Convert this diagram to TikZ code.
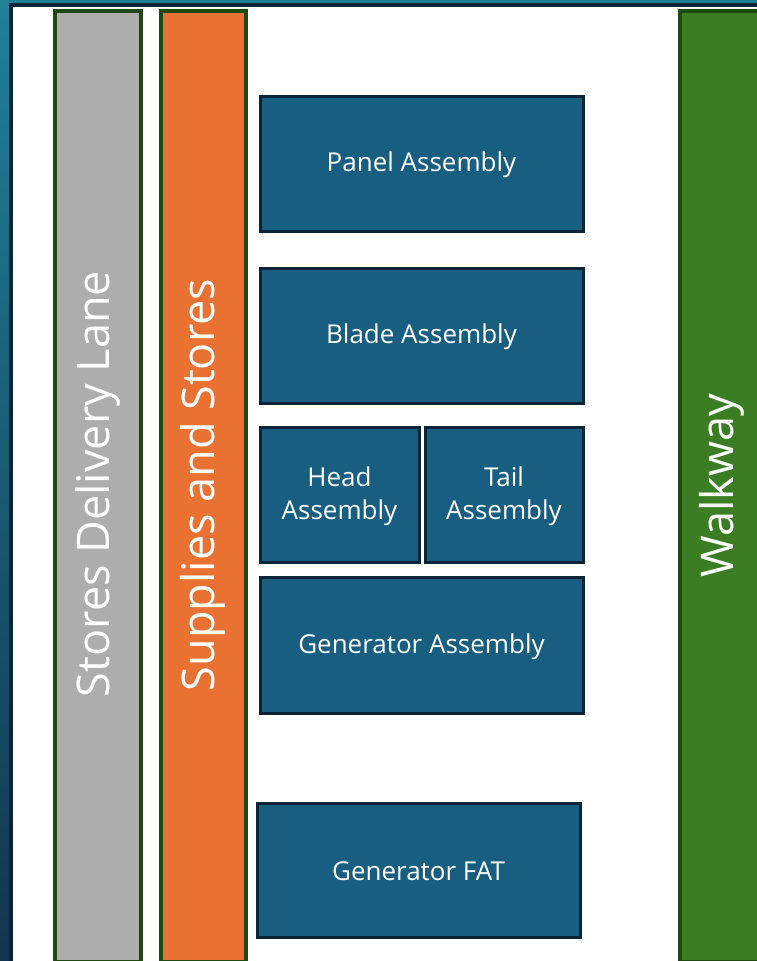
\documentclass[tikz,border=0pt]{standalone}
\usepackage{fontspec}
\setmainfont{Open Sans}
\begin{document}
\begin{tikzpicture}[x=1pt,y=-1pt,
  bar/.style={draw=greenedge,line width=3.5pt},
  box/.style={draw=navyedge,fill=boxblue,line width=3pt},
  boxtxt/.style={text=white,font=\fontsize{26}{33}\selectfont,align=center},
  bigtxt/.style={text=white,font=\fontsize{45}{54}\selectfont,rotate=90}]
\definecolor{greenedge}{HTML}{1E4A12}
\definecolor{navyedge}{HTML}{0B2437}
\definecolor{boxblue}{HTML}{175E80}
\definecolor{grayfill}{HTML}{ADADAD}
\definecolor{orangefill}{HTML}{E97132}
\definecolor{walkgreen}{HTML}{3B7D23}
\definecolor{frametop}{HTML}{1F8098}
\definecolor{framebot}{HTML}{123550}
\useasboundingbox (0,0) rectangle (757,961);
% frame
\shade[top color=frametop,bottom color=framebot] (0,0) rectangle (757,961);
\fill[navyedge] (9,3) rectangle (757,961);
\fill[white] (13,7) rectangle (757,961);
% bars
\draw[bar,fill=grayfill] (55,11) rectangle (141,962);
\draw[bar,fill=orangefill] (161,11) rectangle (246,962);
\draw[bar,fill=walkgreen] (680,11) rectangle (770,962);
\node[bigtxt] (sdl) at (98,484) {Stores Delivery Lane};
\node[bigtxt] (sas) at (203,485) {Supplies and Stores};
\node[bigtxt] (walk) at (722,486) {Walkway};
% boxes
\draw[box] (260,96) rectangle (583,231);
\node[boxtxt] (panel) at (421.5,165) {Panel Assembly};
\draw[box] (260,268) rectangle (583,403);
\node[boxtxt] (blade) at (421.5,337) {Blade Assembly};
\draw[box] (260,427) rectangle (419,562);
\node[boxtxt] (head) at (339.5,496) {Head\\Assembly};
\draw[box] (425,427) rectangle (583,562);
\node[boxtxt] (tail) at (504,496) {Tail\\Assembly};
\draw[box] (260,577) rectangle (583,713);
\node[boxtxt] (gen) at (421.5,646.5) {Generator Assembly};
\draw[box] (257,803) rectangle (580,937);
\node[boxtxt] (fat) at (418.5,871.5) {Generator FAT};
\end{tikzpicture}
\end{document}
